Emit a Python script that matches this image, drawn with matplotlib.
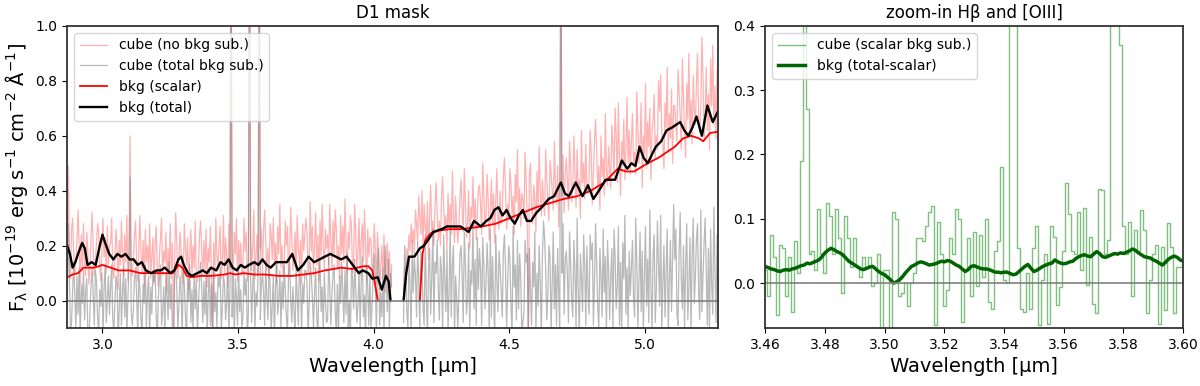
import numpy as np
import matplotlib
matplotlib.use('Agg')
import matplotlib.pyplot as plt

# ---- left panel: D1 mask, spectra on a 0.004 um grid (values in 0.01 units)
wave_start, wave_step = 2.870, 0.004
cube_nobkg = [
    12, 49, 20, 8, 26, 30, 17, 10, 15, 22, 33, 19, 6, 24, 11, 28, 14, 9, 25, 18,
    6, 11, 24, 32, 18, 9, 14, 21, 28, 25, 12, 7, 19, 30, 16, 23, 10, 27, 13, 20,
    21, 30, 11, 8, 16, 26, 19, 4, 22, 13, 29, 17, 9, 24, 14, 31, 7, 18, 60, 12,
    9, 15, 24, 29, 13, 7, 19, 31, 17, 10, 22, 5, 26, 14, 20, 11, 28, 8, 16, 23,
    6, 20, 27, 12, 5, 16, 23, 30, 9, 18, 14, 25, 3, 19, 11, 28, 8, 21, -15, 15,
    32, 21, 8, 15, 25, 18, 6, 10, 28, 19, 13, 23, 4, 17, 26, 9, 20, 12, 29, 7,
    7, 13, 24, 29, 17, 9, 22, 11, 26, 5, 19, 14, 27, 10, -15, 21, 8, 30, 16, 12,
    20, 27, 8, 14, 31, 10, 23, 16, 5, 28, 12, 150, 19, 9, 25, 17, 30, 7, 22, 13,
    21, 9, 12, 30, 18, 25, 7, 14, 150, 27, 11, 20, 33, 8, 16, 24, 10, 150, 19, 26,
    10, 26, 33, 22, 11, 19, 8, 28, 24, 15, 30, 13, 21, 6, 27, 17, 35, 12, 20, 9,
    12, 29, 20, 27, 9, 17, 34, 23, 11, 16, 25, 8, 31, 19, 14, 22, 6, 28, 18, 24,
    30, 25, 10, 14, 36, 18, 27, 9, 21, 32, 13, 24, 7, 29, 16, 35, 20, 11, 26, 19,
    24, 13, 35, 22, 11, 29, 16, 33, 26, 12, 20, 8, 31, 17, 27, 14, 37, 21, 10, 25,
    19, 31, 27, 10, 15, 35, 24, 12, 18, 30, 9, 22, 28, 14, 33, 20, 7, 26, 16, 23,
    22, 9, 14, 28, 19, 6, 25, 17, 4, 12, 20, 8, 24, 3, 15, 21, 7, 18, 2, 13,
    None, None, None, None, None, None, None, None, None, None,
    4, 12, 8, 19, 15, 24, 18, 28, 21, 26,
    17, 33, 28, 21, 38, 30, 24, 40, 19, 35, 27, 22, 36, 15, 31, 42, 25, 29, 20, 34,
    43, 32, 22, 29, 20, 37, 45, 34, 26, 31, 18, 39, 27, 35, 24, 47, 30, 21, 38, 28,
    21, 27, 38, 44, 33, 25, 48, 36, 23, 29, 40, 19, 34, 30, 45, 26, 37, 22, 31, 41,
    42, 35, 24, 50, 38, 27, 31, 46, 37, 22, 33, 44, 28, 39, 21, 36, 48, 30, 26, 40,
    28, 33, 45, 52, 40, 26, 35, 29, 48, 43, 31, 38, 24, 46, 36, 55, 30, 41, 27, 39,
    37, 30, 54, 44, 29, -15, 46, 50, 34, 28, 42, 38, 25, 47, 33, 56, 39, 31, 44, 36,
    31, 55, 44, 36, 29, 51, 47, 40, 33, 58, 42, 35, 49, 27, 45, 150, 38, 53, 32, 46,
    52, 45, 33, 58, 49, 36, 41, 60, 47, 34, 55, 39, 44, 30, 62, 43, 50, 37, 57, 41,
    39, 44, 62, 53, 35, 46, 58, 66, 55, 40, 49, 33, 60, 45, 52, 38, 68, 47, 42, 56,
    48, 41, 64, 57, 45, 70, 60, 43, 72, 52, 38, 58, 49, 66, 44, 55, 74, 50, 62, 46,
    58, 68, 49, 54, 46, 76, 63, 50, 57, 72, 41, 60, 53, 79, 48, 65, 56, 70, 44, 61,
    66, 75, 52, 60, 55, 80, 69, 82, 61, 57, 48, 72, 63, 85, 54, 68, 59, 77, 50, 71,
    71, 63, 58, 84, 76, 67, 55, 88, 74, 62, 52, 79, 66, 90, 60, 73, 57, 82, 69, 64,
    80, 90, 66, 61, 70, 96, 82, 58, 68, 85, 62, 75, 55, 88, 71, 93, 64, 78, 59, 84,
    72,
]
cube_totsub = [
    -3, 28, 10, -12, -8, 4, 14, 2, -10, 9, -5, 12, -14, 6, -1, 11, -7, 3, 8, -11,
    -14, -4, 6, 12, 1, -9, 11, 7, -6, -12, 4, -2, 10, -13, 5, 13, -8, 0, 9, -5,
    5, 13, -7, -11, 0, 9, 6, -15, -2, 10, -9, 3, 12, -6, 8, -12, 1, 14, 45, -4,
    -9, -3, 8, 12, 2, -13, 10, 4, -7, -11, 6, -1, 13, -10, 3, 9, -14, 5, -5, 11,
    7, 11, -5, -14, 1, 8, 13, -9, -4, 5, -12, 10, 2, -7, 14, -3, 6, -11, -15, 9,
    12, 5, -10, -2, 9, 3, -13, 11, 6, -6, -14, 8, 0, 13, -8, 4, -11, 10, -3, 7,
    -12, -1, 8, 14, 4, -8, 7, -5, 10, -13, 2, 12, -9, 6, -15, 11, -4, 3, -10, 9,
    5, 12, -11, -3, 9, 6, -7, -1, 13, -12, 4, 150, -6, 10, -14, 8, 1, -9, 12, -4,
    4, -10, -6, 11, 2, 8, -13, -4, 150, 10, -8, 5, 14, -11, 3, -2, 12, 150, -7, 6,
    10, 3, -9, 14, 1, -7, 12, 6, -12, -2, 9, -14, 5, 13, -5, 0, 11, -10, 7, -3,
    13, 4, -6, -11, 9, 15, 0, -8, 5, -3, -13, 10, 2, -9, 14, 7, -12, 6, -1, 11,
    11, 7, -12, -2, 14, 9, 1, -10, 3, 12, -6, -14, 8, 15, -4, 5, -11, 10, 0, -8,
    -7, 16, 5, -9, 2, 10, 13, -4, -11, 6, -13, 9, -1, 14, 4, -8, 11, -5, 17, -12,
    0, -13, 12, 8, -3, 15, 4, -8, -1, 11, -10, 7, 16, -6, 2, -14, 13, 5, -9, 10,
    -10, -2, 9, 17, 6, -12, 14, 19, -9, 3, -6, 12, -13, 20, 8, -4, 15, -11, 10, 5,
    None, None, None, None, None, None, None, None, None, None,
    -8, 20, 12, -4, -10, 15, 6, -12, 22, 3,
    15, 9, -6, 21, 7, -11, 18, 13, -3, -9, 24, 2, -13, 11, 19, -5, 8, 26, -8, 14,
    10, 22, 5, -7, 16, 11, -12, 24, 8, -4, 18, -10, 3, 27, -6, 13, 20, -13, 9, 1,
    -10, 2, 17, 20, 9, -8, 25, 14, -5, 1, 21, -12, 11, 6, 28, -3, 15, -9, 23, 4,
    19, 11, -9, 23, 13, -3, 6, 21, 10, -11, 26, -6, 16, 2, -13, 24, 8, -4, 18, 12,
    3, -6, 18, 24, 12, -10, 7, 20, 15, -2, -12, 27, 5, 13, -7, 22, -3, 17, 9, -11,
    -8, -4, 22, 14, 17, -15, 19, 4, -9, 14, 5, 25, -11, 10, -2, 20, 7, -13, 16, 29,
    23, 12, -7, 2, 20, 16, -11, 6, 25, -3, 13, -9, 19, 4, -12, 150, 10, 28, -5, 15,
    18, 10, -8, 25, 14, 0, -6, 22, 11, -10, 30, 4, -13, 17, 8, -4, 24, 13, -9, 20,
    4, -5, 24, 15, 21, -9, 7, 28, 13, -2, -11, 19, 9, -6, 26, 3, 16, -12, 22, 11,
    -7, 9, 19, -11, 26, 16, -3, 5, 27, -9, 14, -13, 21, 8, 31, -5, 12, -10, 18, 2,
    12, 22, 1, -6, 30, 14, -10, 7, 25, -4, 18, -12, 9, 27, -2, 15, -8, 33, 6, -11,
    17, 24, -8, 4, 29, 13, -2, 31, -11, 6, 20, -6, 11, 26, -13, 8, 22, -4, 15, 35,
    15, 26, -5, -9, 18, 32, 8, -3, 20, -10, 12, 28, -7, 5, 23, -12, 17, 30, -1, 9,
    23, 28, 3, -7, 33, -4, 9, 21, 30, 11, -9, 19, -12, 26, 6, -5, 34, 14, -8, 24,
    2,
]

# background models (wavelength, flux); None marks the detector gap
bkg_scalar_wave = [2.870, 2.890, 2.910, 2.930, 2.950, 2.970, 3.000, 3.030, 3.060,
                   3.100, 3.140, 3.170, 3.200, 3.230, 3.260, 3.280, 3.295, 3.310,
                   3.330, 3.360, 3.400, 3.450, 3.470, 3.490, 3.520, 3.560, 3.600,
                   3.650, 3.700, 3.740, 3.780, 3.820, 3.850, 3.880, 3.920, 3.960,
                   3.980, 3.995, 4.005, 4.015, 4.090,
                   4.170, 4.180, 4.190, 4.210, 4.240, 4.280, 4.320, 4.360, 4.400,
                   4.450, 4.500, 4.550, 4.600, 4.650, 4.700, 4.750, 4.800, 4.850,
                   4.900, 4.930, 4.960, 5.010, 5.050, 5.080, 5.110, 5.140, 5.170,
                   5.200, 5.215, 5.240, 5.270]
bkg_scalar_flux = [0.085, 0.095, 0.100, 0.120, 0.120, 0.120, 0.130, 0.120, 0.110,
                   0.110, 0.100, 0.100, 0.100, 0.100, 0.100, 0.130, 0.120, 0.090,
                   0.085, 0.090, 0.090, 0.095, 0.100, 0.095, 0.100, 0.095, 0.095,
                   0.090, 0.090, 0.095, 0.100, 0.110, 0.115, 0.120, 0.115, 0.125,
                   0.125, 0.110, 0.060, 0.000, None,
                   0.000, 0.170, 0.220, 0.245, 0.255, 0.260, 0.260, 0.265, 0.270,
                   0.280, 0.300, 0.320, 0.340, 0.355, 0.370, 0.380, 0.400, 0.430,
                   0.480, 0.470, 0.470, 0.500, 0.520, 0.540, 0.560, 0.590, 0.600,
                   0.590, 0.580, 0.610, 0.615]

bkg_total_wave = [2.870, 2.880, 2.890, 2.900, 2.910, 2.925, 2.935, 2.945, 2.960,
                  2.975, 2.990, 3.000, 3.010, 3.025, 3.040, 3.055, 3.070, 3.085,
                  3.100, 3.115, 3.130, 3.145, 3.160, 3.180, 3.200, 3.215, 3.230,
                  3.250, 3.265, 3.280, 3.290, 3.300, 3.315, 3.330, 3.350, 3.370,
                  3.385, 3.400, 3.420, 3.435, 3.450, 3.465, 3.480, 3.495, 3.510,
                  3.525, 3.540, 3.560, 3.575, 3.590, 3.605, 3.620, 3.640, 3.660,
                  3.680, 3.700, 3.720, 3.740, 3.760, 3.780, 3.800, 3.820, 3.840,
                  3.860, 3.880, 3.900, 3.915, 3.930, 3.945, 3.960, 3.980, 3.995,
                  4.015, 4.030, 4.045, 4.055, 4.062, 4.085,
                  4.110, 4.120, 4.130, 4.150, 4.170, 4.185, 4.200, 4.220, 4.250,
                  4.270, 4.300, 4.320, 4.350, 4.370, 4.395, 4.415, 4.430, 4.445,
                  4.460, 4.475, 4.490, 4.505, 4.520, 4.535, 4.550, 4.565, 4.580,
                  4.600, 4.620, 4.645, 4.665, 4.690, 4.705, 4.720, 4.745, 4.770,
                  4.790, 4.810, 4.830, 4.855, 4.870, 4.890, 4.915, 4.935, 4.950,
                  4.965, 4.980, 4.995, 5.010, 5.025, 5.040, 5.060, 5.080, 5.100,
                  5.130, 5.145, 5.160, 5.175, 5.190, 5.210, 5.230, 5.250, 5.270]
bkg_total_flux = [0.20, 0.17, 0.12, 0.14, 0.17, 0.21, 0.19, 0.13, 0.14,
                  0.13, 0.20, 0.24, 0.21, 0.17, 0.15, 0.17, 0.16, 0.17,
                  0.15, 0.15, 0.13, 0.14, 0.11, 0.10, 0.11, 0.11, 0.12,
                  0.10, 0.11, 0.15, 0.16, 0.13, 0.10, 0.09, 0.10, 0.11,
                  0.10, 0.12, 0.11, 0.14, 0.13, 0.15, 0.12, 0.11, 0.13,
                  0.12, 0.13, 0.14, 0.13, 0.15, 0.13, 0.12, 0.14, 0.14,
                  0.14, 0.17, 0.11, 0.13, 0.16, 0.14, 0.15, 0.16, 0.17,
                  0.16, 0.15, 0.16, 0.14, 0.12, 0.10, 0.11, 0.10, 0.08,
                  0.085, 0.04, 0.09, 0.07, 0.00, None,
                  0.00, 0.10, 0.16, 0.16, 0.19, 0.20, 0.22, 0.25, 0.26,
                  0.27, 0.27, 0.27, 0.25, 0.29, 0.27, 0.29, 0.30, 0.33,
                  0.34, 0.31, 0.33, 0.30, 0.28, 0.31, 0.33, 0.29, 0.29,
                  0.32, 0.34, 0.37, 0.38, 0.43, 0.39, 0.38, 0.43, 0.38,
                  0.42, 0.37, 0.40, 0.44, 0.44, 0.44, 0.51, 0.48, 0.50,
                  0.49, 0.56, 0.52, 0.50, 0.53, 0.56, 0.58, 0.62, 0.63,
                  0.65, 0.62, 0.60, 0.63, 0.67, 0.60, 0.71, 0.65, 0.69]

# ---- right panel: zoom on Hbeta/[OIII], 0.001 um grid (values in 0.001 units)
zoom_start, zoom_step = 3.460, 0.001
cube_scalarsub = [
    20, -20, 75, 40, -50, 60, 55, -20, 40, -45,
    65, 15, 190, 600, 270, 45, 50, 20, 115, 45,
    15, 125, 105, 45, 115, 70, -15, 105, 70, 25,
    70, 25, 10, 40, 25, 40, -5, 0, 45, -80,
    20, 20, -80, 110, 100, -20, -15, 0, -35, 0,
    15, 70, 70, 65, 88, 110, 120, -65, 95, 45,
    -35, -10, 70, 45, 115, 100, -60, 20, 70, -20,
    80, -5, 75, 10, 100, -30, -40, 50, 65, 180,
    5, 0, 600, 600, 600, 55, -40, -45, 15, -40,
    55, 88, -65, 5, 45, -63, 88, 72, -34, -6,
    50, 155, 108, 50, 45, 110, 20, 116, -3, 72,
    -32, -47, 147, 145, 45, 67, 600, 600, 600, 370,
    88, 45, 95, -20, 82, 50, 113, 82, -47, 5,
    46, 60, -63, 56, -42, 93, 56, -47, 25, 25,
    30,
]
bkg_diff = [
    26, 24, 22, 21, 19, 18, 20, 21, 20, 22,
    23, 25, 27, 28, 31, 30, 32, 34, 36, 41,
    47, 51, 54, 52, 49, 47, 44, 39, 34, 31,
    28, 25, 22, 21, 23, 25, 26, 22, 18, 15,
    13, 9, 5, 0, 2, 5, 10, 16, 21, 26,
    28, 31, 33, 32, 30, 28, 29, 30, 32, 34,
    33, 35, 34, 31, 28, 26, 22, 18, 21, 26,
    27, 25, 23, 22, 22, 21, 19, 17, 17, 16,
    17, 17, 15, 13, 14, 18, 22, 26, 29, 23,
    18, 20, 23, 26, 28, 30, 31, 36, 33, 31,
    30, 31, 33, 34, 38, 41, 43, 44, 42, 41,
    45, 49, 46, 41, 40, 42, 44, 46, 45, 47,
    46, 48, 50, 53, 51, 47, 44, 41, 40, 39,
    36, 34, 31, 28, 32, 37, 40, 42, 40, 36,
    34,
]


def as_array(values, scale=1.0):
    return np.array([np.nan if v is None else v * scale for v in values])


def grid(start, step, values):
    return start + step * np.arange(len(values))


plt.rcParams['axes.linewidth'] = 1.3
plt.rcParams['axes.edgecolor'] = '#333333'

fig, (ax, axz) = plt.subplots(1, 2, figsize=(12, 3.86),
                              gridspec_kw=dict(width_ratios=[651, 418]))
fig.subplots_adjust(left=0.056, right=0.986, bottom=0.150, top=0.933,
                    wspace=0.088)

ax.plot(grid(wave_start, wave_step, cube_nobkg), as_array(cube_nobkg, 0.01),
        color='red', alpha=0.3, lw=0.9, label='cube (no bkg sub.)')
ax.plot(grid(wave_start, wave_step, cube_totsub), as_array(cube_totsub, 0.01),
        color='gray', alpha=0.55, lw=0.9, label='cube (total bkg sub.)')
ax.plot(bkg_scalar_wave, as_array(bkg_scalar_flux), color='red', lw=1.3,
        label='bkg (scalar)')
ax.plot(bkg_total_wave, as_array(bkg_total_flux), color='black', lw=1.7,
        label='bkg (total)')
ax.axhline(0, color='gray', lw=1.2)
ax.set_xlim(2.87, 5.27)
ax.set_ylim(-0.1, 1.0)
ax.set_xlabel('Wavelength [µm]', fontsize=14)
ax.set_ylabel('F$_{\\rm λ}$ [10$^{-19}$ erg s$^{-1}$ cm$^{-2}$ Å$^{-1}$]',
              fontsize=14)
ax.set_title('D1 mask', fontsize=12)
ax.tick_params(labelsize=10)
ax.legend(loc='upper left', fontsize=10)

zwave = grid(zoom_start, zoom_step, cube_scalarsub)
axz.step(zwave, as_array(cube_scalarsub, 0.001), where='mid', color='green',
         alpha=0.5, lw=1, label='cube (scalar bkg sub.)')
axz.plot(grid(zoom_start, zoom_step, bkg_diff), as_array(bkg_diff, 0.001),
         color='darkgreen', lw=2.5, label='bkg (total-scalar)')
axz.axhline(0, color='gray', lw=1.2)
axz.set_xlim(3.46, 3.60)
axz.set_ylim(-0.07, 0.4)
axz.set_xticks(np.arange(3.46, 3.601, 0.02))
axz.set_xlabel('Wavelength [µm]', fontsize=14)
axz.set_title('zoom-in Hβ and [OIII]', fontsize=12)
axz.tick_params(labelsize=10)
axz.legend(loc='upper left', fontsize=10)

plt.savefig('out.png', dpi=100)
plt.close()
